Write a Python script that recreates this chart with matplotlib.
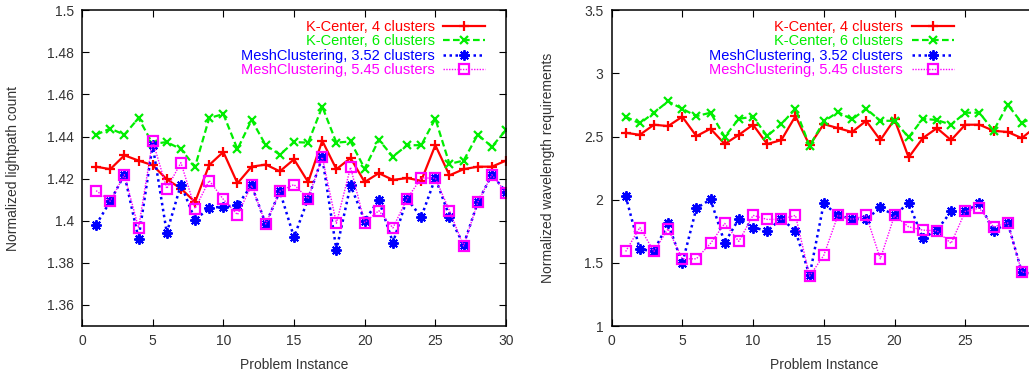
import matplotlib
matplotlib.use("Agg")
from matplotlib import pyplot as plt

plt.rcParams['font.family'] = ['Liberation Sans', 'DejaVu Sans']
plt.rcParams['font.size'] = 10

x = list(range(1, 31))

# left panel: normalized lightpath count
lp_kc4 = [1.4257, 1.4245, 1.4311, 1.4286, 1.4264, 1.4197, 1.4153, 1.4089, 1.4265, 1.4327,
          1.4178, 1.4257, 1.4267, 1.4235, 1.4292, 1.4184, 1.4380, 1.4245, 1.4298, 1.4184,
          1.4226, 1.4194, 1.4203, 1.4190, 1.4359, 1.4216, 1.4245, 1.4257, 1.4257, 1.4286]
lp_kc6 = [1.4409, 1.4438, 1.4409, 1.4488, 1.4365, 1.4374, 1.4340, 1.4257, 1.4488, 1.4507,
          1.4340, 1.4479, 1.4359, 1.4314, 1.4374, 1.4371, 1.4542, 1.4371, 1.4377, 1.4248,
          1.4384, 1.4305, 1.4359, 1.4359, 1.4485, 1.4270, 1.4286, 1.4409, 1.4352, 1.4431]
lp_mc352 = [1.3981, 1.4093, 1.4219, 1.3915, 1.4359, 1.3943, 1.4172, 1.4004, 1.4061, 1.4067,
            1.4074, 1.4168, 1.3985, 1.4140, 1.3922, 1.4105, 1.4302, 1.3861, 1.4168, 1.4001,
            1.4099, 1.3896, 1.4105, 1.4017, 1.4203, 1.4020, 1.3886, 1.4087, 1.4219, 1.4137]
lp_mc545 = [1.4143, 1.4093, 1.4219, 1.3966, 1.4380, 1.4153, 1.4276, 1.4058, 1.4191, 1.4102,
            1.4029, 1.4168, 1.3985, 1.4140, 1.4172, 1.4105, 1.4302, 1.3988, 1.4254, 1.3991,
            1.4048, 1.3966, 1.4105, 1.4203, 1.4203, 1.4048, 1.3880, 1.4087, 1.4219, 1.4134]

# right panel: normalized wavelength requirements
wl_kc4 = [2.530, 2.514, 2.594, 2.583, 2.657, 2.504, 2.562, 2.441, 2.514, 2.594,
          2.441, 2.472, 2.662, 2.430, 2.599, 2.567, 2.536, 2.625, 2.472, 2.636,
          2.335, 2.488, 2.567, 2.472, 2.594, 2.594, 2.546, 2.536, 2.488, 2.580]
wl_kc6 = [2.657, 2.604, 2.689, 2.779, 2.720, 2.662, 2.689, 2.498, 2.641, 2.657,
          2.504, 2.599, 2.720, 2.425, 2.620, 2.694, 2.636, 2.720, 2.625, 2.625,
          2.494, 2.641, 2.631, 2.594, 2.689, 2.689, 2.546, 2.752, 2.609, 2.660]
wl_mc352 = [2.029, 1.606, 1.595, 1.812, 1.495, 1.933, 2.002, 1.658, 1.849, 1.780,
            1.754, 1.849, 1.754, 1.400, 1.971, 1.876, 1.849, 1.844, 1.939, 1.876,
            1.975, 1.696, 1.759, 1.907, 1.907, 1.975, 1.749, 1.817, 1.426, 1.400]
wl_mc545 = [1.590, 1.780, 1.590, 1.770, 1.532, 1.532, 1.654, 1.812, 1.670, 1.876,
            1.844, 1.844, 1.876, 1.395, 1.559, 1.876, 1.844, 1.876, 1.532, 1.876,
            1.785, 1.759, 1.754, 1.654, 1.907, 1.933, 1.785, 1.817, 1.426, 1.420]

labels = ["K-Center, 4 clusters", "K-Center, 6 clusters",
          "MeshClustering, 3.52 clusters", "MeshClustering, 5.45 clusters"]

styles = [
    dict(color='#ff0000', ls='-', lw=1.6, marker='+', ms=7, mew=1.6),
    dict(color='#00ee00', ls=(0, (3, 1.5)), lw=1.6, marker='x', ms=6, mew=1.6),
    dict(color='#0000ff', ls=(0, (1, 1.4)), lw=1.8, marker=(8, 2, 0), ms=7.5, mew=1.4),
    dict(color='#ff00ff', ls=(0, (1, 1)), lw=1.0, marker='s', ms=7, mew=1.6,
         mfc='none'),
]

fig = plt.figure(figsize=(10.29, 3.76), dpi=100)
ax1 = fig.add_axes([82 / 1029, 50 / 376, 424 / 1029, 315.7 / 376])
ax2 = fig.add_axes([611.5 / 1029, 50 / 376, 424.5 / 1029, 315.7 / 376])


def panel(ax, series, ylim, yticks, ylabel, leg_anchor):
    for ys, lab, st in zip(series, labels, styles):
        ax.plot(x, ys, label=lab, **st)
    ax.set_xlim(0, 30)
    ax.set_ylim(*ylim)
    ax.set_xticks([0, 5, 10, 15, 20, 25, 30])
    ax.set_yticks(yticks)
    ax.tick_params(direction='in', length=5, width=0.8, top=True, right=True,
                   labelcolor='#333333', labelsize=10, pad=6)
    for sp in ax.spines.values():
        sp.set_linewidth(1.1)
    ax.set_xlabel("Problem Instance", color='#333333', labelpad=7)
    ax.set_ylabel(ylabel, color='#333333')
    leg = ax.legend(loc='upper right', bbox_to_anchor=leg_anchor, frameon=False,
                    markerfirst=False, numpoints=1, handlelength=2.85,
                    handletextpad=0.6, labelspacing=0.03, borderpad=0,
                    borderaxespad=0, labelcolor='linecolor', fontsize=10.5)
    return leg


panel(ax1, [lp_kc4, lp_kc6, lp_mc352, lp_mc545], (1.35, 1.5),
      [1.36, 1.38, 1.4, 1.42, 1.44, 1.46, 1.48, 1.5],
      "Normalized lightpath count", (403 / 424, 1 - 9.5 / 315.7))
ax1.set_yticklabels(["1.36", "1.38", "1.4", "1.42", "1.44", "1.46", "1.48", "1.5"])

panel(ax2, [wl_kc4, wl_kc6, wl_mc352, wl_mc545], (1, 3.5),
      [1, 1.5, 2, 2.5, 3, 3.5],
      "Normalized wavelength requirements", (342 / 424.5, 1 - 9.5 / 315.7))
ax2.set_yticklabels(["1", "1.5", "2", "2.5", "3", "3.5"])
# the right panel runs past the edge of the picture, so its last label is not shown
ax2.set_xticklabels(["0", "5", "10", "15", "20", "25", ""])

ax1.yaxis.set_label_coords(-0.146, 0.5)
ax2.yaxis.set_label_coords(-0.133, 0.5)

plt.savefig('out.png', dpi=100)
